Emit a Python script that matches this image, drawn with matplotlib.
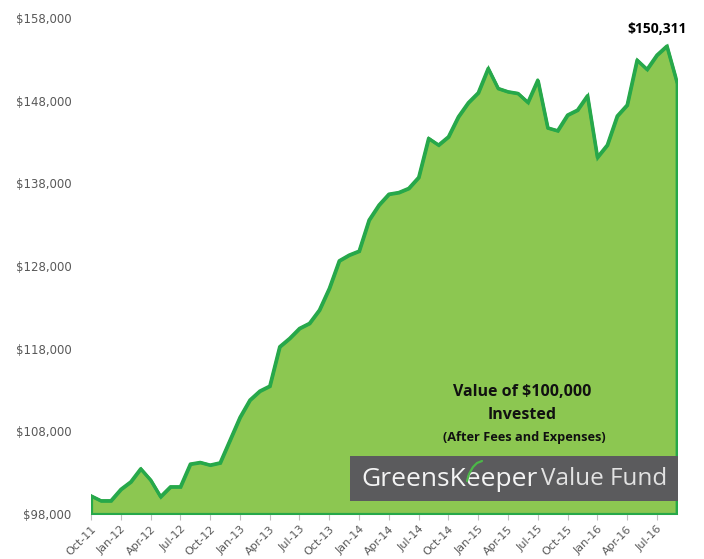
import numpy as np
import pandas as pd
import matplotlib
matplotlib.use("Agg")
import matplotlib.pyplot as plt
from matplotlib.patches import Rectangle
from matplotlib.lines import Line2D

# monthly value of $100,000 invested, Oct-11 .. Sep-16
months = pd.date_range("2011-10-01", "2016-09-01", freq="MS").strftime("%b-%y").tolist()
values = [100200, 99610, 99610, 100990, 101900, 103480, 102110, 100100, 101300, 101300,
          104050, 104250, 103930, 104200, 106950, 109700, 111790, 112880, 113480, 118240,
          119250, 120460, 121070, 122680, 125300, 128640, 129330, 129810, 133560, 135380,
          136700, 136900, 137400, 138730, 143450, 142640, 143640, 146060, 147760, 148960,
          151910, 149490, 149090, 148890, 147800, 150500, 144720, 144370, 146270, 146870,
          148600, 141150, 142640, 146150, 147480, 152920, 151790, 153520, 154610, 150311]
y_ticks = [98000, 108000, 118000, 128000, 138000, 148000, 158000]
final_label = "$150,311"

fill_color = "#8cc751"
line_color = "#27a84a"
label_grey = "#595959"

fig = plt.figure(figsize=(7.04, 5.59), dpi=100)
ax = fig.add_axes([91 / 704, 1 - 514 / 559, (676.7 - 91) / 704, (514 - 18) / 559])

x = np.arange(len(values))
ax.fill_between(x, values, y_ticks[0], facecolor=fill_color, edgecolor=line_color,
                linewidth=2.3, joinstyle="miter", zorder=2)
ax.plot(x, values, color=line_color, linewidth=2.3, zorder=3)

ax.set_xlim(0, len(values) - 1)
ax.set_ylim(y_ticks[0], y_ticks[-1])

ax.set_yticks(y_ticks)
ax.set_yticklabels(["${:,}".format(v) for v in y_ticks], color=label_grey,
                   fontsize=8.5, family="DejaVu Sans")
ax.tick_params(axis="y", length=0, pad=14)

tick_pos = x[::3]
ax.set_xticks(tick_pos)
ax.set_xticklabels([months[i] for i in tick_pos], rotation=45, ha="right",
                   rotation_mode="anchor", color=label_grey, fontsize=8, family="DejaVu Sans")
ax.tick_params(axis="x", length=4, color="#bfbfbf", pad=3)

for side in ["top", "right", "left"]:
    ax.spines[side].set_visible(False)
ax.spines["bottom"].set_color("#bfbfbf")
ax.spines["bottom"].set_zorder(1)

# final value label
ax.annotate(final_label, (x[-1], values[-1]), xytext=(-14, 33), textcoords="offset points",
            ha="center", va="bottom", fontsize=10, fontweight="bold", color="black",
            family="Open Sans")

# caption text inside the area
fig.text(522 / 704, 1 - 392 / 559, "Value of $100,000", ha="center", va="center",
         fontsize=11.5, fontweight="bold", family="Open Sans", color="#111111")
fig.text(522 / 704, 1 - 415 / 559, "Invested", ha="center", va="center",
         fontsize=11.5, fontweight="bold", family="Open Sans", color="#111111")
fig.text(524 / 704, 1 - 437 / 559, "(After Fees and Expenses)", ha="center", va="center",
         fontsize=9.2, fontweight="bold", family="Open Sans", color="#111111")

# logo banner
fig.patches.append(Rectangle((350 / 704, 1 - 501 / 559), (678 - 350) / 704, 45 / 559,
                             transform=fig.transFigure, facecolor="#5b5b5d",
                             edgecolor="none", zorder=5))
t1 = fig.text(361 / 704, 1 - 479 / 559, "GreensKeeper", ha="left", va="center",
              fontsize=19, family="Open Sans", color="#f4f4f4", zorder=6)
fig.canvas.draw()
bb = t1.get_window_extent()
fig.text((bb.x1 + 4) / 704, 1 - 479 / 559, "Value Fund", ha="left", va="center",
         fontsize=17.5, family="Open Sans", color="#e2e2e2", zorder=6)
# green swoosh over the K
sx = np.array([467, 469, 473, 477, 482]) / 704
sy = 1 - np.array([481, 474, 467, 463, 461]) / 559
fig.lines.append(Line2D(sx, sy, transform=fig.transFigure, color="#4cb748",
                        linewidth=1.6, solid_capstyle="round", zorder=7))

fig.savefig("out.png", dpi=100)
